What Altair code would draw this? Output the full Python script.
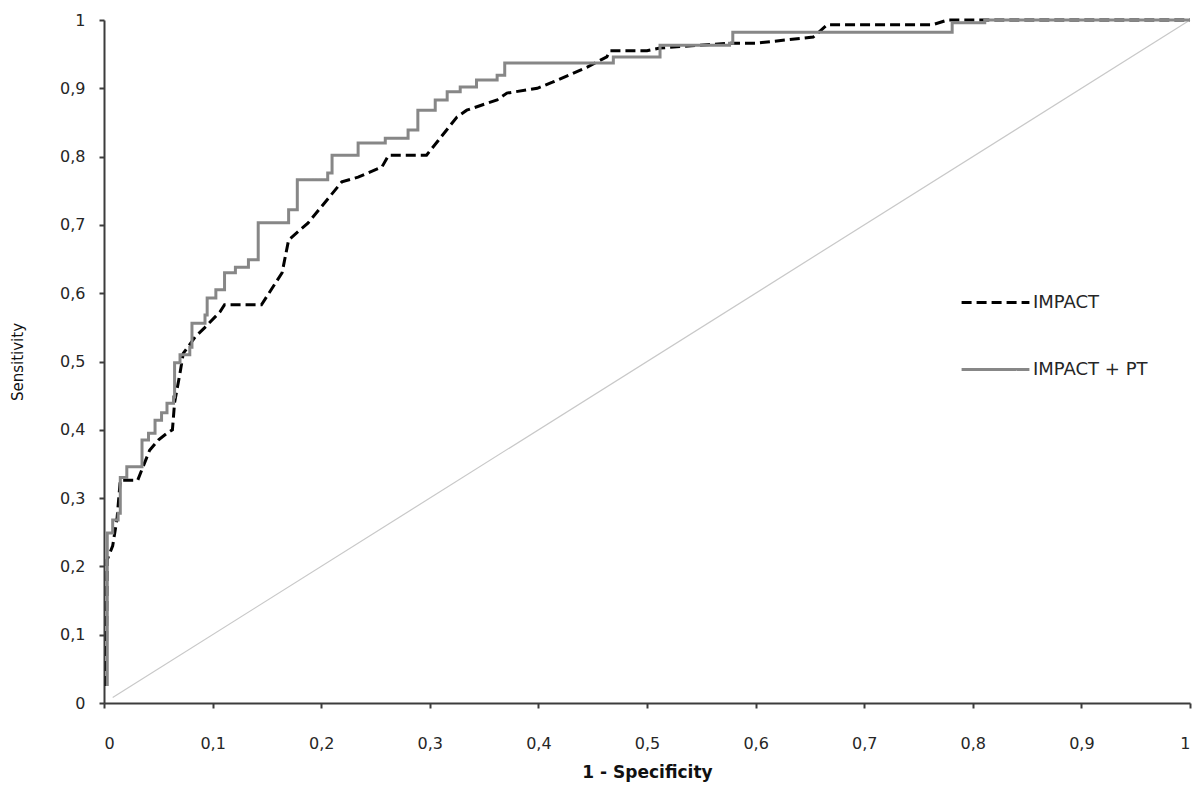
import altair as alt
import pandas as pd

# IMPACT (dashed black)
impact_x = [0.002, 0.003, 0.008, 0.012, 0.015, 0.031, 0.042, 0.050, 0.058, 0.063, 0.065,
            0.070, 0.073, 0.084, 0.093, 0.107, 0.111, 0.145, 0.164, 0.170, 0.188, 0.219,
            0.234, 0.256, 0.262, 0.297, 0.308, 0.325, 0.334, 0.362, 0.371, 0.399, 0.413,
            0.445, 0.463, 0.466, 0.500, 0.512, 0.576, 0.600, 0.641, 0.653, 0.666, 0.763,
            0.777, 1.000]
impact_y = [0.025, 0.210, 0.230, 0.270, 0.326, 0.326, 0.370, 0.385, 0.395, 0.400, 0.440,
            0.483, 0.512, 0.536, 0.550, 0.573, 0.583, 0.583, 0.630, 0.678, 0.703, 0.763,
            0.770, 0.785, 0.802, 0.802, 0.824, 0.858, 0.868, 0.883, 0.893, 0.900, 0.909,
            0.931, 0.946, 0.955, 0.955, 0.959, 0.966, 0.966, 0.973, 0.975, 0.993, 0.993,
            1.000, 1.000]

# IMPACT + PT (solid grey, stepped)
pt_x = [0.003, 0.003, 0.007, 0.008, 0.013, 0.015, 0.021, 0.031, 0.035, 0.041, 0.047,
        0.053, 0.058, 0.064, 0.065, 0.070, 0.079, 0.081, 0.093, 0.095, 0.103, 0.111,
        0.121, 0.133, 0.142, 0.142, 0.157, 0.170, 0.178, 0.178, 0.206, 0.210, 0.234,
        0.259, 0.280, 0.289, 0.305, 0.316, 0.328, 0.343, 0.362, 0.369, 0.466, 0.469,
        0.503, 0.512, 0.576, 0.579, 0.776, 0.781, 0.811, 0.811, 1.000]
pt_y = [0.025, 0.249, 0.249, 0.268, 0.278, 0.330, 0.346, 0.346, 0.385, 0.395, 0.414,
        0.425, 0.439, 0.448, 0.498, 0.510, 0.521, 0.556, 0.568, 0.593, 0.605, 0.630,
        0.638, 0.649, 0.649, 0.703, 0.703, 0.722, 0.722, 0.766, 0.776, 0.802, 0.820,
        0.827, 0.839, 0.868, 0.883, 0.895, 0.902, 0.912, 0.919, 0.937, 0.937, 0.946,
        0.946, 0.963, 0.966, 0.982, 0.982, 0.996, 0.996, 1.000, 1.000]

diag_x = [0.008, 1.0]
diag_y = [0.008, 1.0]

series_names = ["IMPACT", "IMPACT + PT"]
series_colors = ["#000000", "#878787"]
series_dash = [[10, 5], [1, 0]]

FONT = "DejaVu Sans"

df_imp = pd.DataFrame({"x": impact_x, "y": impact_y, "series": series_names[0],
                       "o": range(len(impact_x))})
df_pt = pd.DataFrame({"x": pt_x, "y": pt_y, "series": series_names[1],
                      "o": range(len(pt_x))})
df_diag = pd.DataFrame({"x": diag_x, "y": diag_y})

lbl = "datum.value == 0 ? '0' : datum.value == 1 ? '1' : replace(format(datum.value, '.1f'), '.', ',')"

xenc = alt.X("x:Q", scale=alt.Scale(domain=[0, 1], nice=False),
             axis=alt.Axis(title="1 - Specificity", values=[i / 10 for i in range(11)],
                           labelExpr=lbl, grid=False, tickSize=5, labelPadding=27,
                           titlePadding=13, titleFontWeight="bold", titleFontSize=17))
yenc = alt.Y("y:Q", scale=alt.Scale(domain=[0, 1], nice=False),
             axis=alt.Axis(title="Sensitivity", values=[i / 10 for i in range(11)],
                           labelExpr=lbl, grid=False, tickSize=5, labelPadding=14,
                           titlePadding=34, titleFontWeight="normal", titleFontSize=15))

leg = alt.Legend(title=None, orient="none", legendX=856, legendY=247,
                 symbolType="stroke", symbolSize=4600, symbolStrokeWidth=3,
                 labelFontSize=18, labelFont=FONT, labelColor="#262626",
                 labelOffset=2, rowPadding=22)

color = alt.Color("series:N", scale=alt.Scale(domain=series_names, range=series_colors),
                  legend=leg)
dash = alt.StrokeDash("series:N", scale=alt.Scale(domain=series_names, range=series_dash),
                      legend=leg)

diag = alt.Chart(df_diag).mark_line(color="#c8c8c8", strokeWidth=1.2).encode(
    x=xenc, y=yenc)

imp = alt.Chart(df_imp).mark_line(strokeWidth=3).encode(
    x=xenc, y=yenc, color=color, strokeDash=dash, order="o:Q")

pt = alt.Chart(df_pt).mark_line(strokeWidth=3, interpolate="step-after").encode(
    x=xenc, y=yenc, color=color, strokeDash=dash, order="o:Q")

chart = alt.layer(diag, imp, pt).properties(
    width=1086, height=683,
    autosize=alt.AutoSizeParams(type="none"),
    padding={"left": 96, "top": 12, "right": 2, "bottom": 82},
).configure_view(stroke=None).configure_axis(
    labelFont=FONT, titleFont=FONT, labelFontSize=16,
    labelColor="#262626", titleColor="#111111",
    domainColor="#3c3c3c", domainWidth=2, tickColor="#3c3c3c", tickWidth=2,
)

chart.save("out.html", embed_options={"renderer": "svg", "actions": False})
